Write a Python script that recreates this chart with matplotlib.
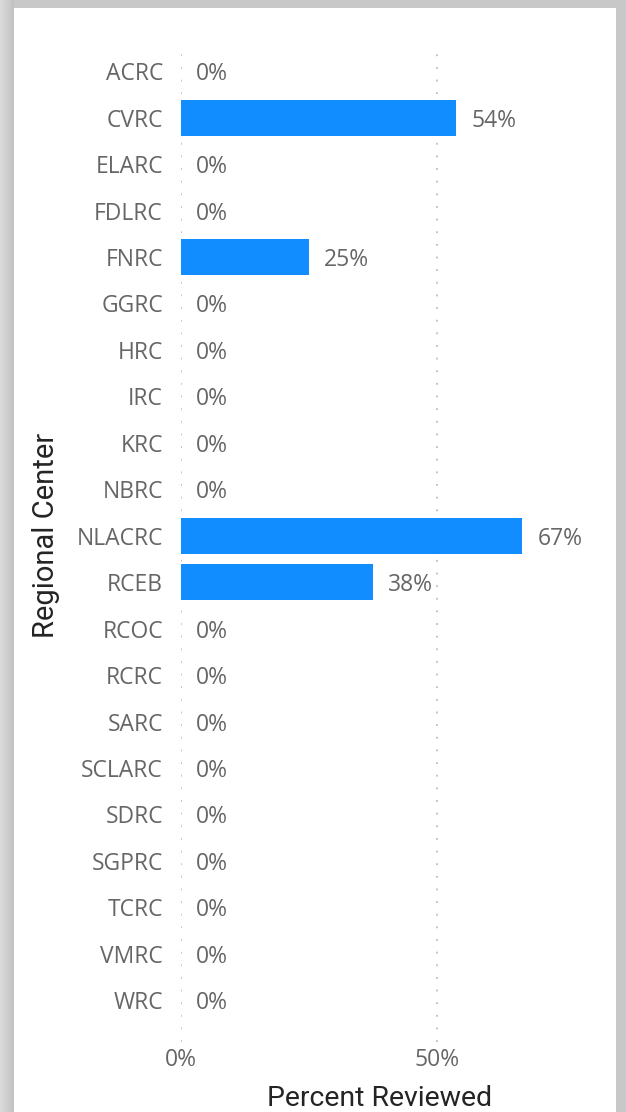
import numpy as np
import matplotlib.pyplot as plt
from matplotlib.patches import Rectangle

# Percent reviewed by regional center
centers = ['ACRC', 'CVRC', 'ELARC', 'FDLRC', 'FNRC', 'GGRC', 'HRC', 'IRC', 'KRC',
           'NBRC', 'NLACRC', 'RCEB', 'RCOC', 'RCRC', 'SARC', 'SCLARC', 'SDRC',
           'SGPRC', 'TCRC', 'VMRC', 'WRC']
pct = [0, 53.8, 0, 0, 25.0, 0, 0, 0, 0, 0, 66.7, 37.5, 0, 0, 0, 0, 0, 0, 0, 0, 0]
xticks = [0, 50]
xtick_labels = ['0%', '50%']

W, H = 626, 1112
fig = plt.figure(figsize=(W / 100, H / 100), dpi=100)
fig.patch.set_facecolor('#c8c8c8')

# soft shadow on left edge + white card
grad = fig.add_axes([0, 0, 14 / W, 1], zorder=-2)
grad.imshow(np.linspace(0.86, 0.76, 50).reshape(1, -1), cmap='gray', vmin=0, vmax=1,
            aspect='auto', extent=[0, 1, 0, 1])
grad.axis('off')
fig.patches.append(Rectangle((14 / W, 0), 602 / W, 1 - 8 / H, transform=fig.transFigure,
                             facecolor='white', edgecolor='none', zorder=-1))

ax = fig.add_axes([181 / W, 1 - 1042 / H, 409 / W, 994 / H], zorder=1)
ax.set_facecolor('none')

y = np.arange(len(centers))
ax.barh(y, pct, height=0.78, color='#118dff', zorder=3)
for yi, v in zip(y, pct):
    ax.annotate(f'{v:.0f}%', (v, yi), xytext=(11, 0), textcoords='offset points',
                ha='left', va='center_baseline', fontsize=16.5, color='#666666',
                family='Open Sans', zorder=4)

ax.set_xlim(0, 80)
ax.set_ylim(20.9, -0.5)
ax.set_yticks(y)
ax.set_yticklabels(centers, family='Open Sans', fontsize=16.5, color='#666666',
                   va='center_baseline')
ax.set_xticks(xticks)
ax.set_xticklabels(xtick_labels, family='Open Sans', fontsize=16.5, color='#666666')
ax.tick_params(axis='y', length=0, pad=13)
ax.tick_params(axis='x', length=0, pad=4)
for sp in ax.spines.values():
    sp.set_visible(False)
ax.grid(axis='x', linestyle=(0, (1, 6)), color='#bdbdbd', linewidth=1.3, zorder=1)

ax.set_xlabel('Percent Reviewed', family='Roboto', fontsize=20.5, color='#252423')
ax.xaxis.set_label_coords(0.485, -0.043)
ax.set_ylabel('Regional Center', family='Roboto', fontsize=21, color='#252423')
ax.yaxis.set_label_coords(-0.296, 0.51)

fig.savefig('out.png', dpi=100, facecolor=fig.get_facecolor())
